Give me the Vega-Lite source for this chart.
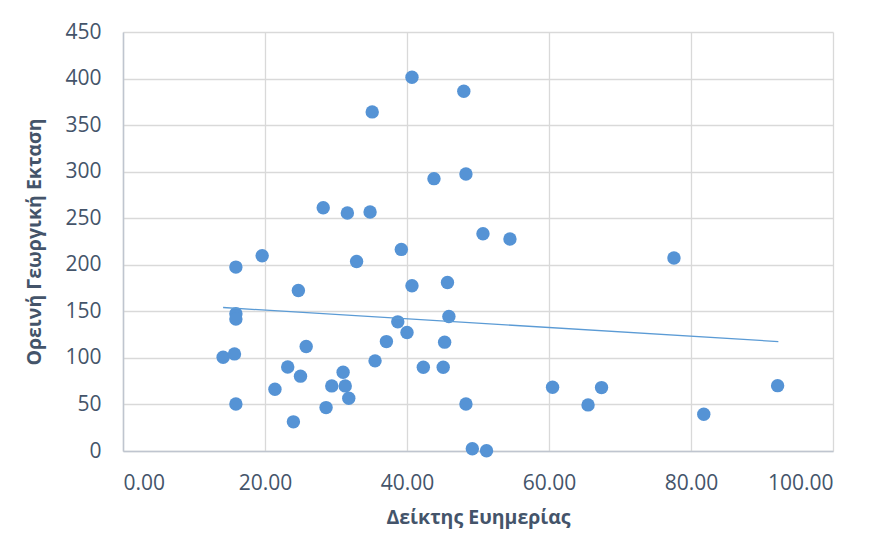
{
  "$schema": "https://vega.github.io/schema/vega-lite/v6.json",
  "width": 710,
  "height": 419,
  "autosize": {"type": "none"},
  "padding": {"left": 123, "top": 32, "right": 39, "bottom": 87},
  "background": "white",
  "config": {
    "view": {"stroke": null},
    "axis": {
      "labelFont": "Open Sans",
      "titleFont": "Open Sans",
      "labelColor": "#44546A",
      "titleColor": "#44546A",
      "labelFontSize": 21,
      "titleFontSize": 19.5,
      "titleFontWeight": "bold",
      "gridColor": "#D9D9D9",
      "gridWidth": 1.3,
      "domainColor": "#BFC5CF",
      "domainWidth": 1.5,
      "ticks": false
    }
  },
  "datasets": {
    "points": [
      {"x": 14.1, "y": 100.7}, {"x": 15.7, "y": 104.3}, {"x": 15.9, "y": 147.5}, {"x": 15.9, "y": 141.8},
      {"x": 15.9, "y": 197.5}, {"x": 15.9, "y": 50.5}, {"x": 19.6, "y": 209.7}, {"x": 21.4, "y": 66.3},
      {"x": 23.2, "y": 90.3}, {"x": 24.0, "y": 31.3}, {"x": 24.7, "y": 172.4}, {"x": 25.0, "y": 80.4},
      {"x": 25.8, "y": 112.2}, {"x": 28.2, "y": 261.3}, {"x": 28.6, "y": 46.6}, {"x": 29.4, "y": 69.9},
      {"x": 31.0, "y": 84.6}, {"x": 31.3, "y": 69.9}, {"x": 31.6, "y": 255.6}, {"x": 31.8, "y": 56.6},
      {"x": 32.9, "y": 203.5}, {"x": 34.8, "y": 256.7}, {"x": 35.1, "y": 364.2}, {"x": 35.5, "y": 96.8},
      {"x": 37.1, "y": 117.5}, {"x": 38.7, "y": 138.7}, {"x": 39.2, "y": 216.5}, {"x": 40.0, "y": 127.2},
      {"x": 40.7, "y": 401.4}, {"x": 40.7, "y": 177.4}, {"x": 42.3, "y": 90.0}, {"x": 43.8, "y": 292.5},
      {"x": 45.1, "y": 90.0}, {"x": 45.3, "y": 116.9}, {"x": 45.7, "y": 181.0}, {"x": 45.9, "y": 144.4},
      {"x": 48.0, "y": 386.4}, {"x": 48.3, "y": 297.5}, {"x": 48.3, "y": 50.5}, {"x": 49.2, "y": 2.5},
      {"x": 50.7, "y": 233.3}, {"x": 51.2, "y": 0.3}, {"x": 54.5, "y": 227.6}, {"x": 60.5, "y": 68.5},
      {"x": 65.5, "y": 49.5}, {"x": 67.4, "y": 68.1}, {"x": 77.6, "y": 207.2}, {"x": 81.8, "y": 39.4},
      {"x": 92.2, "y": 70.2}
    ],
    "trend": [
      {"x": 14.1, "y": 154.1},
      {"x": 92.3, "y": 117.5}
    ]
  },
  "layer": [
    {
      "data": {"name": "points"},
      "mark": {"type": "circle", "size": 180, "color": "#5593D5", "opacity": 1},
      "encoding": {
        "x": {
          "field": "x", "type": "quantitative",
          "scale": {"domain": [0, 100], "nice": false, "zero": false},
          "axis": {
            "title": "Δείκτης Ευημερίας",
            "values": [0, 20, 40, 60, 80, 100],
            "format": ".2f",
            "labelPadding": 21,
            "titlePadding": 15
          }
        },
        "y": {
          "field": "y", "type": "quantitative",
          "scale": {"domain": [0, 450], "nice": false},
          "axis": {
            "title": "Ορεινή Γεωργική Εκταση",
            "values": [0, 50, 100, 150, 200, 250, 300, 350, 400, 450],
            "labelPadding": 22,
            "titlePadding": 20
          }
        }
      }
    },
    {
      "data": {"name": "trend"},
      "mark": {"type": "line", "color": "#5B9BD5", "strokeWidth": 1.3},
      "encoding": {
        "x": {"field": "x", "type": "quantitative"},
        "y": {"field": "y", "type": "quantitative"}
      }
    }
  ]
}
